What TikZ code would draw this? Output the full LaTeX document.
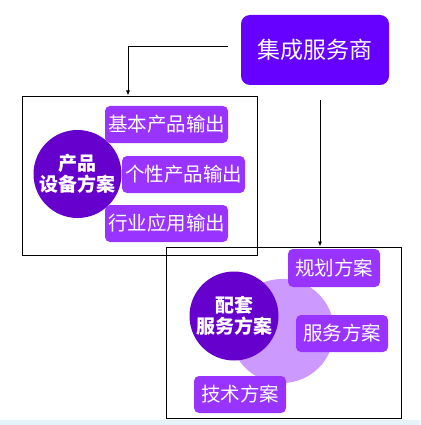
\documentclass[tikz,border=0pt]{standalone}
\usepackage{fontspec}
\setmainfont{Noto Sans CJK SC}
\usetikzlibrary{arrows.meta}
\definecolor{topc}{HTML}{6600FF}
\definecolor{circc}{HTML}{6600CC}
\definecolor{pillc}{HTML}{9933FF}
\definecolor{lavc}{HTML}{CC99FF}
\definecolor{stripc}{HTML}{E6F2FA}
\begin{document}
\begin{tikzpicture}[x=1pt,y=-1pt,
  frame/.style={draw=black,line width=0.9pt},
  pill/.style={fill=pillc,rounded corners=5pt,text=white,font=\fontsize{19.5}{21}\selectfont,inner sep=0pt},
  bigc/.style={circle,fill=circc,text=white,font=\bfseries\fontsize{19}{21}\selectfont,align=center,inner sep=0pt,minimum size=88pt},
  conn/.style={draw=black,line width=0.8pt,-{Latex[length=5pt,width=4pt]}}]
\useasboundingbox (0,0) rectangle (420,425);
\fill[stripc] (0,420) rectangle (420,425);
% frames
\node[frame,minimum width=235pt,minimum height=159pt,inner sep=0pt] (f1) at (139.5,175.5) {};
\node[frame,minimum width=235pt,minimum height=171pt,inner sep=0pt] (f2) at (283.5,332.5) {};
% top box
\node[fill=topc,rounded corners=9pt,text=white,minimum width=148pt,minimum height=70pt,inner sep=0pt,font=\fontsize{23}{25}\selectfont] (top) at (315,50) {集成服务商};
% connectors
\coordinate (s1) at (228,46);
\coordinate (e1) at (128,95.5);
\coordinate (s2) at (320,100);
\coordinate (e2) at (320,246.5);
\draw[conn] (s1) -| (e1);
\draw[conn] (s2) -- (e2);
% group 1
\node[bigc] (c1) at (77.5,174) {产品\\设备方案};
\node[pill,minimum width=123pt,minimum height=37pt] (p1) at (166.5,124.5) {基本产品输出};
\node[pill,minimum width=123pt,minimum height=37pt] (p2) at (183.5,174.5) {个性产品输出};
\node[pill,minimum width=123pt,minimum height=37pt] (p3) at (166.5,223.5) {行业应用输出};
% group 2
\node[circle,fill=lavc,minimum size=104pt,inner sep=0pt] (lc) at (282,331) {};
\node[bigc,minimum size=89pt] (c2) at (234,316) {配套\\服务方案};
\node[pill,minimum width=92pt,minimum height=38pt] (q1) at (334,268) {规划方案};
\node[pill,minimum width=92pt,minimum height=37pt] (q2) at (342,333.5) {服务方案};
\node[pill,minimum width=92pt,minimum height=37pt] (q3) at (240,394.5) {技术方案};
\end{tikzpicture}
\end{document}
